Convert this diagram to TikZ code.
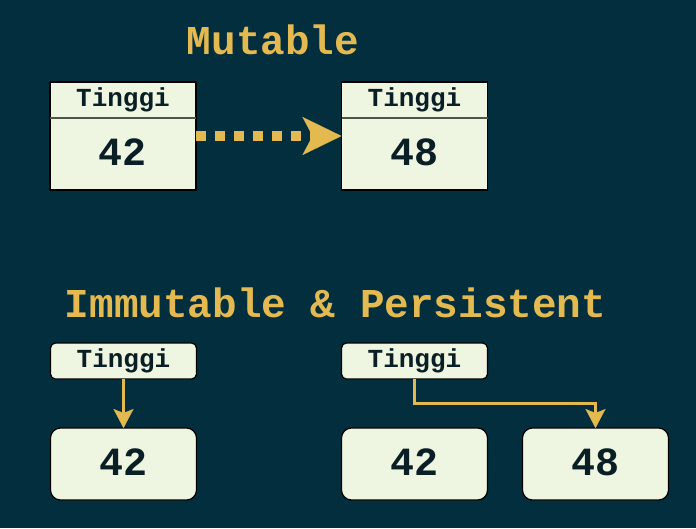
\documentclass[tikz,border=0pt]{standalone}
\usepackage{fontspec}
\setmainfont{Liberation Mono}
\usetikzlibrary{arrows.meta,calc}
\definecolor{bg}{RGB}{2,46,62}
\definecolor{gold}{RGB}{228,185,80}
\definecolor{boxfill}{RGB}{238,245,224}
\definecolor{ink}{RGB}{10,30,38}
\definecolor{divider}{RGB}{79,85,72}
\begin{document}
\begin{tikzpicture}[x=1pt,y=-1pt,
  base/.style={fill=boxfill, text=ink, inner sep=0pt, outer sep=0pt, minimum width=146pt},
  hdr/.style={base, minimum height=36pt, font=\bfseries\fontsize{26}{30}\selectfont},
  val/.style={base, minimum height=72pt, text height=26pt, text depth=4pt, font=\bfseries\fontsize{40}{46}\selectfont},
  rhdr/.style={hdr, draw=black, line width=1.2pt, rounded corners=5pt},
  rval/.style={val, draw=black, line width=1.2pt, rounded corners=10pt},
  title/.style={text=gold, font=\bfseries\fontsize{41}{46}\selectfont, inner sep=0pt},
  frame/.style={draw=black, line width=1.4pt},
  divline/.style={draw=divider, line width=2pt},
  dotarrow/.style={draw=gold, line width=10pt, dash pattern=on 10pt off 9pt,
    -{Stealth[length=39pt, width=38pt, inset=10pt, line width=0.1pt]}},
  ptr/.style={draw=gold, line width=3pt,
    -{Stealth[length=19pt, width=20pt, inset=4pt, line width=0.1pt]}}
]
\fill[bg] (0,0) rectangle (696,528);
\useasboundingbox (0,0) rectangle (696,528);

% Titles
\node[title] (tmut) at (273,40) {Mutable};
\node[title] (timm) at (335.5,303) {Immutable \& Persistent};

% Mutable boxes
\node[hdr] (h1) at (123,100) {Tinggi};
\node[val] (v1) at (123,154) {42};
\draw[frame] (h1.north west) rectangle (v1.south east);
\draw[divline] (h1.south west) -- (h1.south east);

\node[hdr] (h2) at (414.5,100) {Tinggi};
\node[val] (v2) at (414.5,154) {48};
\draw[frame] (h2.north west) rectangle (v2.south east);
\draw[divline] (h2.south west) -- (h2.south east);

\draw[dotarrow] ($(v1.north east)!0.25!(v1.south east)$) -- ($(v2.north west)!0.25!(v2.south west)$);

% Immutable & Persistent
\node[rhdr] (l1) at (123.5,361) {Tinggi};
\node[rval] (n1) at (123.5,464) {42};
\draw[ptr] (l1.south) -- (n1.north);

\node[rhdr] (l2) at (414.5,361) {Tinggi};
\node[rval] (n2) at (414.5,464) {42};
\node[rval] (n3) at (595.5,464) {48};
\draw[ptr] (l2.south) -- ++(0,24) -| (n3.north);
\end{tikzpicture}
\end{document}
